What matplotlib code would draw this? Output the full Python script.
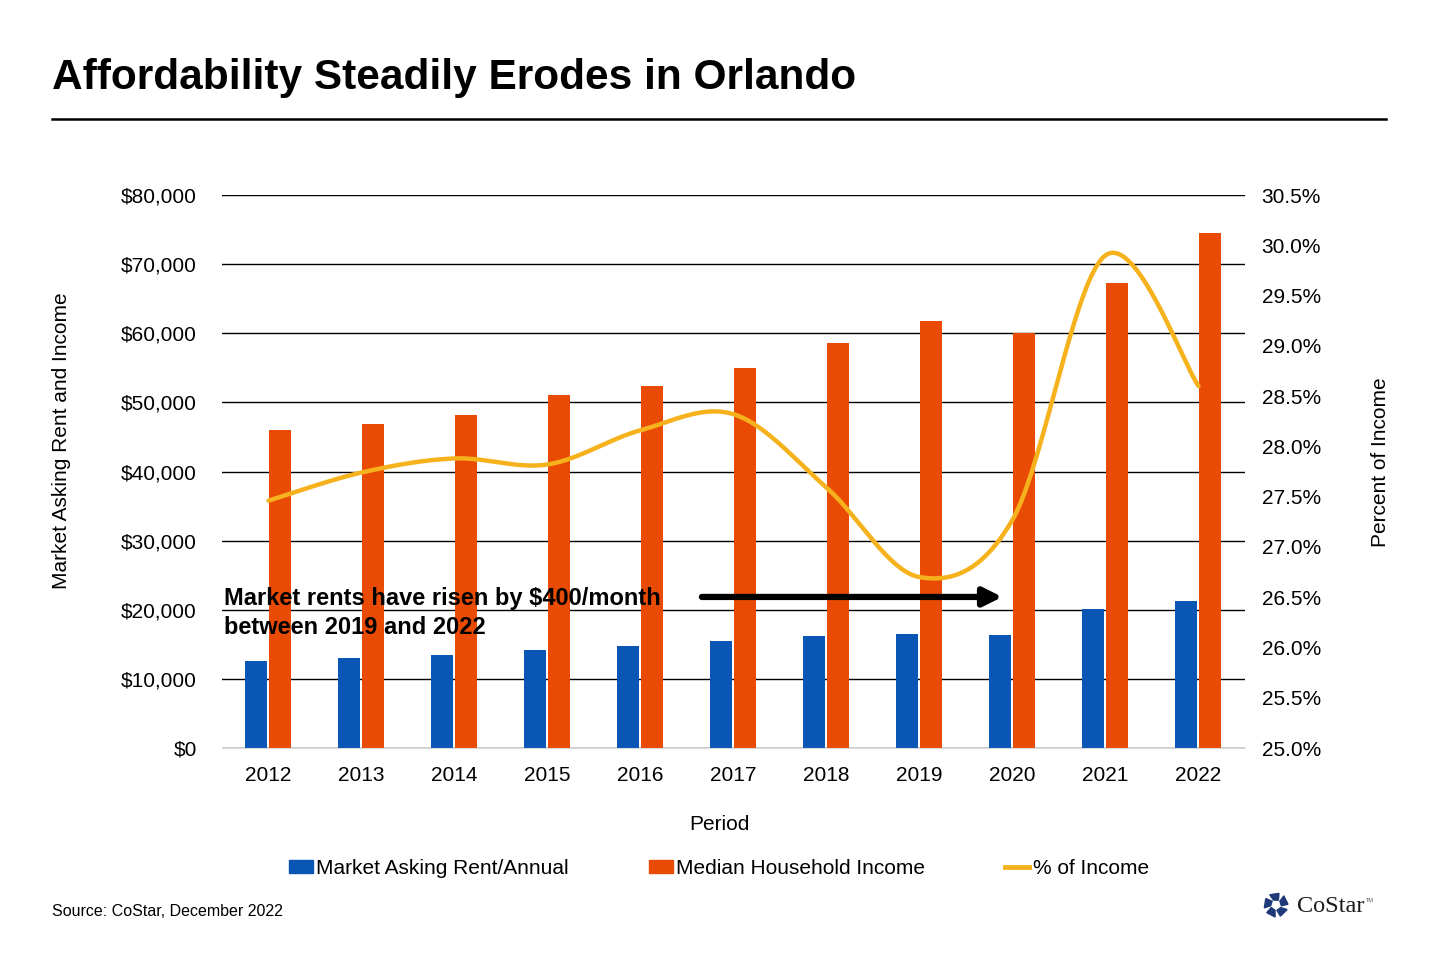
import numpy as np
import matplotlib
matplotlib.use('Agg')
import matplotlib.pyplot as plt
from matplotlib.patches import Patch, Polygon
from matplotlib.lines import Line2D
from matplotlib.ticker import FuncFormatter

plt.rcParams['font.family'] = ['Liberation Sans', 'DejaVu Sans']

# 1. data
years = ['2012', '2013', '2014', '2015', '2016', '2017', '2018', '2019', '2020', '2021', '2022']
rent = [12600, 13000, 13450, 14200, 14750, 15500, 16200, 16500, 16350, 20100, 21300]
income = [46000, 46900, 48200, 51100, 52400, 55000, 58600, 61800, 60000, 67300, 74500]
pct = [27.46, 27.74, 27.88, 27.82, 28.16, 28.32, 27.59, 26.70, 27.27, 29.90, 28.60]

BLUE = '#0A56B4'
ORANGE = '#EA4B04'
GOLD = '#F5B21C'
FS = 15


# Excel style smoothed line (bezier through points)
def smooth(xs, ys, n=40):
    p = np.column_stack([xs, ys]).astype(float)
    out = []
    for i in range(len(p) - 1):
        p0 = p[i - 1] if i > 0 else p[i]
        p1, p2 = p[i], p[i + 1]
        p3 = p[i + 2] if i + 2 < len(p) else p[i + 1]
        c1 = p1 + (p2 - p0) / 6
        c2 = p2 - (p3 - p1) / 6
        t = np.linspace(0, 1, n)[:, None]
        seg = (1 - t) ** 3 * p1 + 3 * (1 - t) ** 2 * t * c1 + 3 * (1 - t) * t ** 2 * c2 + t ** 3 * p2
        out.append(seg if i == 0 else seg[1:])
    out = np.vstack(out)
    return out[:, 0], out[:, 1]


# 2. figure
fig = plt.figure(figsize=(14.4, 9.6), dpi=100)
ax = fig.add_axes([222 / 1440, 1 - 748 / 960, (1245 - 222) / 1440, (748 - 195) / 960])
ax2 = ax.twinx()

x = np.arange(len(years))
w = 0.235
ax.bar(x - 0.135, rent, w, color=BLUE, zorder=3)
ax.bar(x + 0.125, income, w, color=ORANGE, zorder=3)

sx, sy = smooth(x, pct)
ax2.plot(sx, sy, color=GOLD, lw=3.2, solid_capstyle='round', zorder=4)

ax.set_xlim(-0.5, len(years) - 0.5)
ax.set_ylim(0, 80000)
ax.set_yticks(np.arange(0, 80001, 10000))
ax.yaxis.set_major_formatter(FuncFormatter(lambda v, p: '${:,.0f}'.format(v)))
ax2.set_ylim(25, 30.5)
ax2.set_yticks(np.arange(25, 30.51, 0.5))
ax2.yaxis.set_major_formatter(FuncFormatter(lambda v, p: '{:.1f}%'.format(v)))

ax.set_xticks(x)
ax.set_xticklabels(years)
ax.grid(axis='y', color='black', lw=1, zorder=0)
ax.set_axisbelow(True)
for a in (ax, ax2):
    for s in a.spines.values():
        s.set_visible(False)
    a.tick_params(length=0, labelsize=FS, colors='black')
ax.spines['bottom'].set_visible(True)
ax.spines['bottom'].set_color('#d9d9d9')
ax.spines['bottom'].set_zorder(5)
ax.tick_params(axis='x', pad=13)
ax.tick_params(axis='y', pad=18)
ax2.tick_params(axis='y', pad=12)

ax.set_xlabel('Period', fontsize=FS)
ax.set_ylabel('Market Asking Rent and Income', fontsize=FS)
ax2.set_ylabel('Percent of Income', fontsize=FS)
ax.xaxis.set_label_coords(0.486, -0.121)
ax.yaxis.set_label_coords(-0.148, 0.555)
ax2.yaxis.set_label_coords(1.123, 0.517)

# 3. annotation
ax.text(-0.48, 23300, 'Market rents have risen by $400/month\nbetween 2019 and 2022',
        fontsize=17, fontweight='bold', va='top', ha='left', linespacing=1.36,
        family=['Liberation Sans Narrow', 'Liberation Sans'], zorder=6)
ax.annotate('', xy=(7.92, 21850), xytext=(4.63, 21850), zorder=6,
            arrowprops=dict(arrowstyle='-|>,head_length=1.1,head_width=0.55', color='black', lw=4.5))

# 4. legend
handles = [Patch(color=BLUE), Patch(color=ORANGE), Line2D([], [], color=GOLD, lw=3.5)]
labels = ['Market Asking Rent/Annual', 'Median Household Income', '% of Income']
fig.legend(handles, labels, loc='center', bbox_to_anchor=(719 / 1440, 1 - 868 / 960), ncol=3,
           frameon=False, fontsize=FS, handlelength=1.15, handleheight=0.6, handletextpad=0.15,
           columnspacing=3.85)

# 5. title, rule, source, logo
fig.text(52 / 1440, 1 - 78 / 960, 'Affordability Steadily Erodes in Orlando', fontsize=30.5,
         fontweight='bold', va='center', ha='left')
fig.add_artist(Line2D([52 / 1440, 1386 / 1440], [1 - 119 / 960] * 2, color='black', lw=1.8))
fig.text(52 / 1440, 1 - 911 / 960, 'Source: CoStar, December 2022', fontsize=11.5, va='center')

cx, cy, r = 1276 / 1440, 1 - 905 / 960, 12 / 960
for k in range(5):
    a = np.pi / 2 + k * 2 * np.pi / 5
    pts = []
    for da, rr in ((-0.45, 0.45), (0.45, 0.45), (0.55, 1.0), (-0.25, 1.0)):
        pts.append((cx + rr * r * np.cos(a + da) * 960 / 1440, cy + rr * r * np.sin(a + da)))
    fig.add_artist(Polygon(pts, closed=True, color='#1F3A78', transform=fig.transFigure))
fig.text(1297 / 1440, 1 - 906 / 960, 'CoStar', fontsize=17.5, family='Liberation Serif',
         color='#1c1c1c', va='center')
fig.text(1366 / 1440, 1 - 900 / 960, 'TM', fontsize=4, color='#555555', va='center')

fig.savefig('out.png', dpi=100, facecolor='white')
